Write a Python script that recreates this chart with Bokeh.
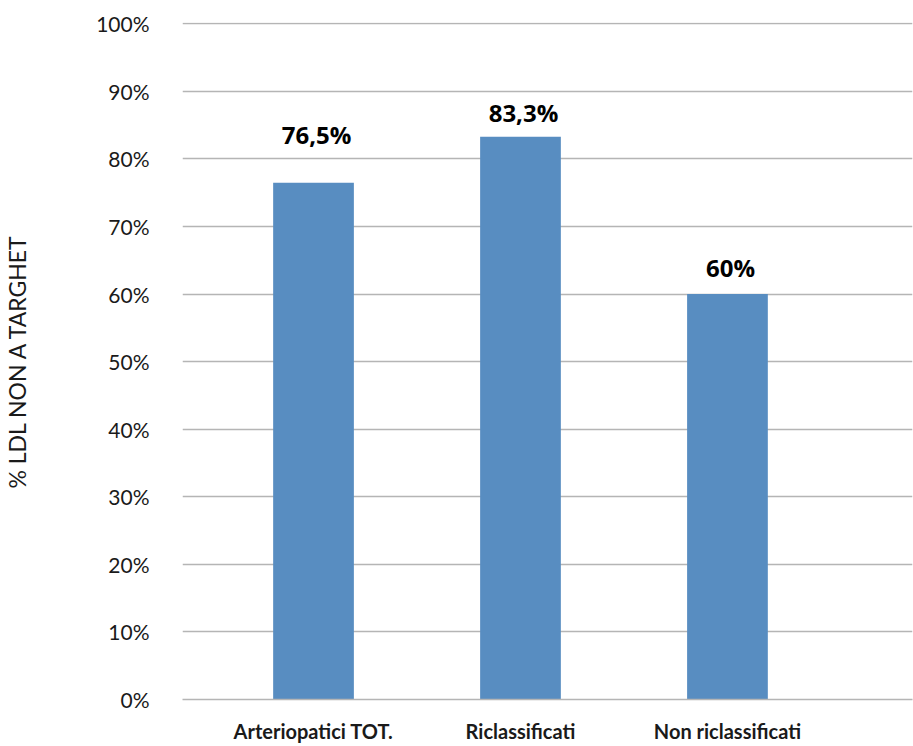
from bokeh.plotting import figure
from bokeh.models import ColumnDataSource, Range1d, FixedTicker
from bokeh.core.properties import value
from bokeh.embed import file_html
from bokeh.resources import INLINE

# Share of patients with LDL not at target, per group
categories = ["Arteriopatici TOT.", "Riclassificati", "Non riclassificati"]
pct_not_at_target = [76.5, 83.3, 60.0]
value_labels = ["76,5%", "83,3%", "60%"]
y_ticks = [0, 10, 20, 30, 40, 50, 60, 70, 80, 90, 100]

# Screen-space lift of each value label above its bar (px)
label_lift = [48, 24, 27]

BAR_COLOR = "#588DC1"
GRID_COLOR = "#B5B5B5"
TEXT_COLOR = "#1A1A1A"

xs = list(range(len(categories)))
src = ColumnDataSource(dict(
    x=xs,
    top=pct_not_at_target,
    label=value_labels,
    lift=[-v for v in label_lift],
))

p = figure(
    width=913, height=746,
    output_backend="svg", toolbar_location=None,
    x_range=Range1d(-0.633, 2.894), y_range=Range1d(0, 100.2),
    min_border_left=180, min_border_right=1,
    min_border_top=22, min_border_bottom=47,
    outline_line_color=None,
)

p.vbar(x="x", top="top", bottom=0, width=0.39, source=src,
       fill_color=BAR_COLOR, line_color=None)

p.text(x="x", y="top", text="label", source=src,
       x_offset=3, y_offset="lift",
       text_align="center", text_baseline="alphabetic",
       text_font=value("Open Sans"), text_font_style="bold",
       text_font_size="24px", text_color="#000000")

# y axis: percent ticks, horizontal gridlines
p.yaxis.ticker = FixedTicker(ticks=y_ticks)
p.yaxis.major_label_overrides = {t: f"{t}%" for t in y_ticks}
p.yaxis.axis_line_color = None
p.yaxis.major_tick_line_color = None
p.yaxis.minor_tick_line_color = None
p.yaxis.major_label_standoff = 27
p.yaxis.major_label_text_font = "Lato"
p.yaxis.major_label_text_font_size = "21px"
p.yaxis.major_label_text_color = TEXT_COLOR
p.yaxis.axis_label = "% LDL NON A TARGHET"
p.yaxis.axis_label_text_font = "Lato"
p.yaxis.axis_label_text_font_style = "normal"
p.yaxis.axis_label_text_font_size = "23px"
p.yaxis.axis_label_text_color = TEXT_COLOR
p.yaxis.axis_label_standoff = 62

p.ygrid.ticker = FixedTicker(ticks=y_ticks)
p.ygrid.grid_line_color = GRID_COLOR
p.ygrid.grid_line_width = 1.3
p.xgrid.grid_line_color = None

# x axis: category names under the bars
p.xaxis.ticker = FixedTicker(ticks=xs)
p.xaxis.major_label_overrides = {i: c for i, c in zip(xs, categories)}
p.xaxis.axis_line_color = GRID_COLOR
p.xaxis.axis_line_width = 1.3
p.xaxis.major_tick_line_color = None
p.xaxis.minor_tick_line_color = None
p.xaxis.major_label_standoff = 13
p.xaxis.major_label_text_font = "Lato"
p.xaxis.major_label_text_font_style = "bold"
p.xaxis.major_label_text_font_size = "20px"
p.xaxis.major_label_text_color = TEXT_COLOR

open("out.html", "w").write(file_html(p, INLINE))
